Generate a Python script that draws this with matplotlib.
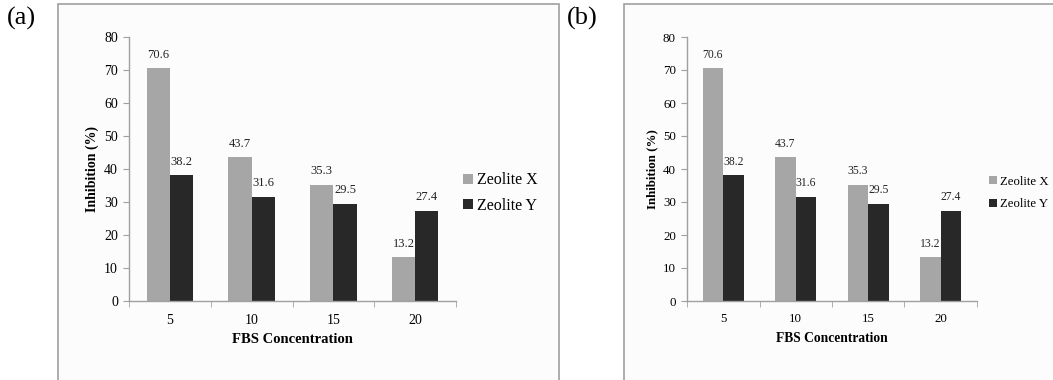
import matplotlib

matplotlib.use("Agg")
import matplotlib.pyplot as plt
import numpy as np
from matplotlib.patches import Rectangle

concentrations = ["5", "10", "15", "20"]
zeolite_x = [70.6, 43.7, 35.3, 13.2]
zeolite_y = [38.2, 31.6, 29.5, 27.4]
series_names = ["Zeolite X", "Zeolite Y"]
panel_labels = ["(a)", "(b)"]

W, H = 1053, 380
GRAY = "#a6a6a6"
DARK = "#282828"
SPINE = "#a0a0a0"

plt.rcParams["font.family"] = ["Liberation Serif", "DejaVu Serif"]

fig = plt.figure(figsize=(W / 100, H / 100), dpi=100)


def px_box(x0, y_top, x1, y_bot):
    return [x0 / W, 1 - y_bot / H, (x1 - x0) / W, (y_bot - y_top) / H]


def draw_panel(n, frame_x0, frame_x1, ax_x0, ax_x1, legend_x, ylabel_x, label_x,
               scale, legend_size, legend_gap):
    fig.patches.append(
        Rectangle((frame_x0 / W, -0.1), (frame_x1 - frame_x0) / W, 1.1 - 3.5 / H,
                  transform=fig.transFigure, facecolor="#fcfcfc",
                  edgecolor=SPINE, linewidth=1.2, zorder=-5)
    )
    fig.text(label_x / W, 1 - 7 / H, panel_labels[n], fontsize=19, va="top", ha="left")

    ax = fig.add_axes(px_box(ax_x0, 37, ax_x1, 301))
    ax.set_facecolor("none")
    idx = np.arange(len(concentrations)) + 0.5
    bw = 0.285
    bx = ax.bar(idx - bw / 2, zeolite_x, bw, color=GRAY, label=series_names[0])
    by = ax.bar(idx + bw / 2, zeolite_y, bw, color=DARK, label=series_names[1])
    for bars, vals in ((bx, zeolite_x), (by, zeolite_y)):
        for rect, v in zip(bars, vals):
            ax.text(rect.get_x() + rect.get_width() / 2, v + 2.2, f"{v:.1f}",
                    ha="center", va="bottom", fontsize=9 * scale, color="#222222")

    ax.set_xlim(0, len(concentrations))
    ax.set_ylim(0, 80)
    ax.set_yticks(range(0, 81, 10))
    ax.set_xticks(idx)
    ax.set_xticklabels(concentrations)
    ax.set_xticks(range(len(concentrations) + 1), minor=True)
    ax.tick_params(axis="x", which="major", length=0, pad=9, labelsize=10 * scale)
    ax.tick_params(axis="x", which="minor", length=4, color=SPINE, direction="out")
    ax.tick_params(axis="y", length=4, color=SPINE, pad=4, labelsize=10 * scale)
    for side in ("top", "right"):
        ax.spines[side].set_visible(False)
    for side in ("left", "bottom"):
        ax.spines[side].set_color(SPINE)
        ax.spines[side].set_linewidth(1.0)

    ax.set_xlabel("FBS Concentration", fontsize=10.5 * scale, fontweight="bold", labelpad=5)
    fig.text(ylabel_x / W, 1 - 169 / H, "Inhibition (%)", rotation=90,
             fontsize=10 * scale, fontweight="bold", ha="center", va="center")

    fig.legend(handles=[bx, by], labels=series_names, loc="center left",
               bbox_to_anchor=(legend_x / W, 1 - 193 / H), frameon=False,
               fontsize=legend_size, handlelength=0.6, handleheight=0.6,
               handletextpad=0.25, labelspacing=legend_gap, borderpad=0,
               borderaxespad=0)
    return ax


draw_panel(0, 58, 559, 129, 456, 463, 92, 7, 1.0, 11.5, 0.6)
draw_panel(1, 624, 1070, 687, 977, 989, 652, 567, 0.93, 9.2, 0.85)

fig.savefig("out.png", dpi=100)
